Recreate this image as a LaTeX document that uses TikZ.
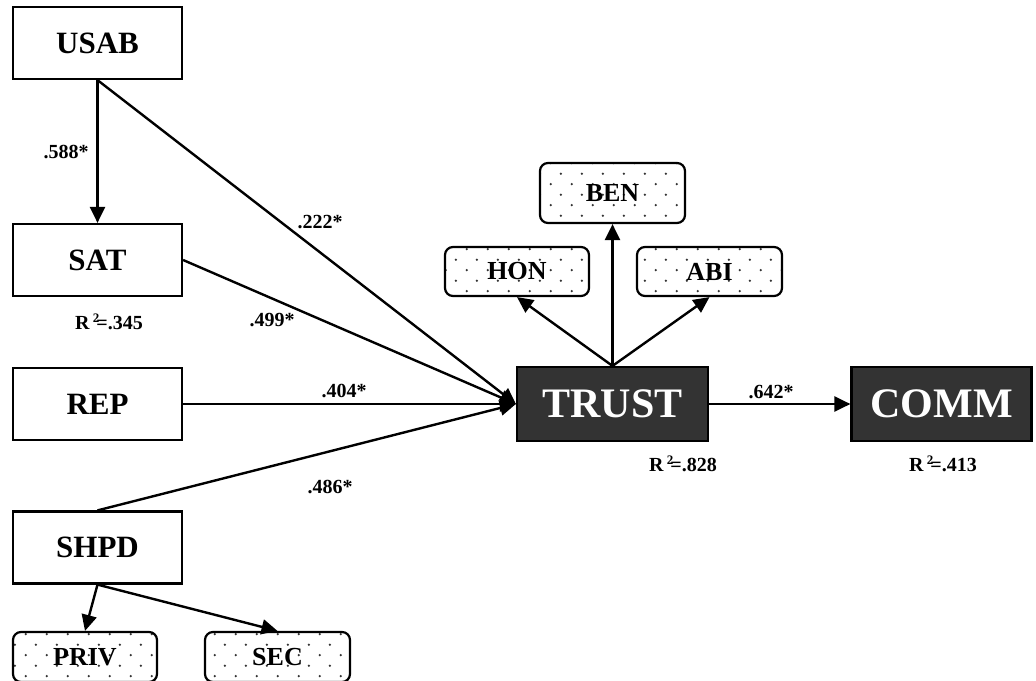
\documentclass[tikz,border=0pt]{standalone}
\usepackage{fontspec}
\setmainfont{Liberation Serif}
\usetikzlibrary{arrows.meta,patterns}
\pgfdeclarepatternformonly{sparsedots}{\pgfpointorigin}{\pgfpoint{21pt}{21.4pt}}{\pgfpoint{21pt}{21.4pt}}{%
  \pgfpathcircle{\pgfpoint{5pt}{5pt}}{1.3pt}%
  \pgfpathcircle{\pgfpoint{15.5pt}{15.7pt}}{1.3pt}%
  \pgfusepath{fill}}
\definecolor{darkbox}{HTML}{333333}
\newcommand{\Rsq}[1]{R\,\raisebox{0.36em}{\fontsize{13}{13}\selectfont 2}\kern-3pt=#1}
\tikzset{
  obsbox/.style={draw=black, line width=2.2pt, fill=white, inner sep=0pt,
    minimum width=169pt, minimum height=72pt,
    font=\bfseries\fontsize{31}{34}\selectfont},
  latbox/.style={draw=black, line width=2.2pt, fill=darkbox, inner sep=0pt,
    minimum height=74pt, text=white,
    font=\bfseries\fontsize{42}{46}\selectfont},
  dimbox/.style={draw=black, line width=2.2pt, rounded corners=8pt, inner sep=0pt,
    pattern=sparsedots, pattern color=black!80,
    font=\bfseries\fontsize{26}{28}\selectfont},
  conn/.style={line width=2.4pt, -{Triangle[length=16pt,width=15pt]}},
  coef/.style={font=\bfseries\fontsize{20}{22}\selectfont, inner sep=0pt}
}
\begin{document}
\begin{tikzpicture}[x=1pt,y=-1pt]
\useasboundingbox (0,0) rectangle (1036,680);
% observed boxes
\node[obsbox] (usab) at (97.5,43) {USAB};
\node[obsbox] (sat) at (97.5,260) {SAT};
\node[obsbox] (rep) at (97.5,404) {REP};
\node[obsbox] (shpd) at (97.5,547.5) {SHPD};
% latent boxes
\node[latbox, minimum width=191pt] (trust) at (612.5,404) {TRUST};
\node[latbox, minimum width=180pt] (comm) at (941.5,404) {COMM};
% dimension boxes
\node[dimbox, minimum width=145pt, minimum height=60pt] (ben) at (612.5,193) {BEN};
\node[dimbox, minimum width=144pt, minimum height=49pt] (hon) at (517,271.5) {HON};
\node[dimbox, minimum width=145pt, minimum height=49pt] (abi) at (709.5,271.5) {ABI};
\node[dimbox, minimum width=144pt, minimum height=50pt] (priv) at (85,657) {PRIV};
\node[dimbox, minimum width=145pt, minimum height=50pt] (sec) at (277.5,657) {SEC};
% connectors
\draw[conn] (usab.south) -- (sat.north);
\draw[conn] (usab.south) -- (trust.west);
\draw[conn] (sat.east) -- (trust.west);
\draw[conn] (rep.east) -- (trust.west);
\draw[conn] (shpd.north) -- (trust.west);
\draw[conn] (trust.north) -- (ben.south);
\draw[conn] (trust.north) -- (hon.south);
\draw[conn] (trust.north) -- (abi.south);
\draw[conn] (trust.east) -- (comm.west);
\draw[conn] (shpd.south) -- (priv.north);
\draw[conn] (shpd.south) -- (sec.north);
% coefficients
\node[coef] (c588) at (66,152) {.588*};
\node[coef] (c222) at (320,222) {.222*};
\node[coef] (c499) at (272,320) {.499*};
\node[coef] (c404) at (344,391) {.404*};
\node[coef] (c486) at (330,487) {.486*};
\node[coef] (c642) at (771,392) {.642*};
\node[coef] (r345) at (109,322) {\Rsq{.345}};
\node[coef] (r828) at (683,464) {\Rsq{.828}};
\node[coef] (r413) at (943,464) {\Rsq{.413}};
\end{tikzpicture}
\end{document}
